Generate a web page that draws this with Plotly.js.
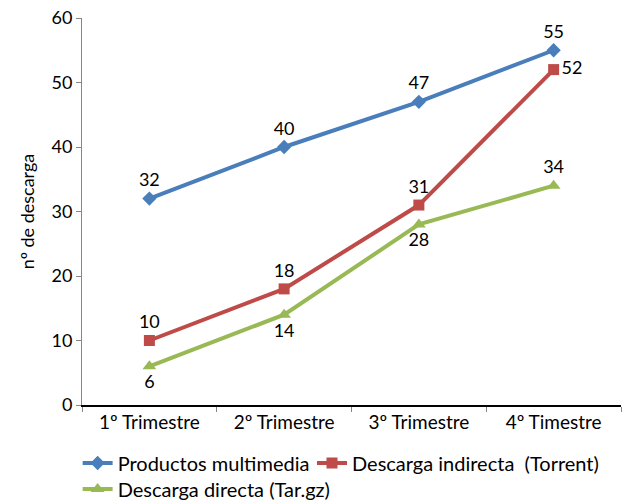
<!DOCTYPE html>
<html>
<head>
<meta charset="utf-8">
<script src="https://cdn.plot.ly/plotly-3.0.1.min.js"></script>
<style>html,body{margin:0;padding:0;background:#fff;}#chart{width:624px;height:504px;}</style>
</head>
<body>
<div id="chart"></div>
<script>
const categories = ["1º Trimestre", "2º Trimestre", "3º Trimestre", "4º Timestre"];
const multimedia = [32, 40, 47, 55];
const indirecta = [10, 18, 31, 52];
const directa = [6, 14, 28, 34];
const seriesNames = ["Productos multimedia", "Descarga indirecta  (Torrent)", "Descarga directa (Tar.gz)"];

const FONT = "Lato, 'Open Sans', sans-serif";
const lblFont = {family: FONT, size: 18, color: "#000"};

const traces = [
  {
    x: categories, y: multimedia, name: seriesNames[0], type: "scatter", mode: "lines+markers+text",
    line: {color: "#4a7ebb", width: 4},
    marker: {symbol: "diamond", size: 11, color: "#4a7ebb"},
    text: multimedia.map(String), textposition: "top center", textfont: lblFont,
    legend: "legend"
  },
  {
    x: categories, y: indirecta, name: seriesNames[1], type: "scatter", mode: "lines+markers+text",
    line: {color: "#be4b48", width: 4},
    marker: {symbol: "square", size: 11, color: "#be4b48"},
    text: indirecta.map(String), textposition: ["top center", "top center", "top center", "middle right"], textfont: lblFont,
    legend: "legend2"
  },
  {
    x: categories, y: directa, name: seriesNames[2], type: "scatter", mode: "lines+markers+text",
    line: {color: "#98b954", width: 4},
    marker: {symbol: "triangle-up", size: 12, color: "#98b954"},
    text: directa.map(String), textposition: ["bottom center", "bottom center", "bottom center", "top center"], textfont: lblFont,
    legend: "legend3"
  }
];

function leg(x, y) {
  return {
    orientation: "h", xref: "container", yref: "container",
    x: x, xanchor: "left", y: y, yanchor: "middle",
    font: {family: FONT, size: 20, color: "#000"},
    itemwidth: 30, bgcolor: "rgba(0,0,0,0)"
  };
}

const layout = {
  width: 624, height: 504,
  margin: {l: 82, r: 3, t: 18, b: 99},
  paper_bgcolor: "#fff", plot_bgcolor: "#fff",
  font: {family: FONT, size: 18, color: "#000"},
  showlegend: true,
  legend: leg(0.1244, 0.0813),
  legend2: leg(0.5, 0.0813),
  legend3: leg(0.1244, 0.0298),
  xaxis: {
    type: "category", range: [-0.5, 3.5], showgrid: false, zeroline: false,
    showline: true, linecolor: "#000", linewidth: 1.5,
    ticks: "outside", tickson: "boundaries", ticklen: 5, tickcolor: "#868686",
    tickfont: {family: FONT, size: 19, color: "#000"}
  },
  yaxis: {
    range: [0, 60], dtick: 10, showgrid: false, zeroline: false,
    showline: true, linecolor: "#868686", linewidth: 1,
    ticks: "outside", ticklen: 5, tickcolor: "#868686",
    tickfont: {family: FONT, size: 18, color: "#000"},
    title: {text: "nº de descarga", font: {family: FONT, size: 18, color: "#000"}, standoff: 12}
  }
};

Plotly.newPlot("chart", traces, layout, {displayModeBar: false, staticPlot: true});
</script>
</body>
</html>
